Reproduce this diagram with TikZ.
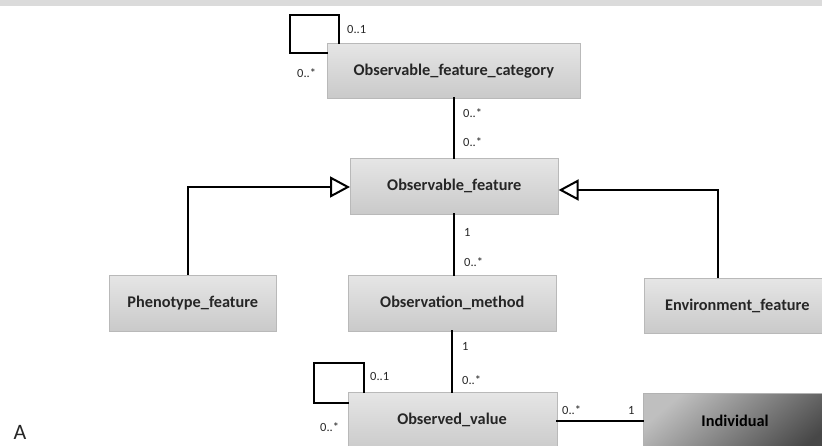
\documentclass[tikz,border=0pt]{standalone}
\usepackage{fontspec}
\setmainfont{Carlito}
\usetikzlibrary{arrows.meta,calc}

\tikzset{
  cls/.style={draw=gray!55, line width=0.6pt, top color=gray!20, bottom color=gray!42,
    inner sep=0pt, anchor=north west,
    font=\fontsize{16.3}{19}\selectfont\bfseries, text=black!85},
  darkcls/.style={cls, top color=gray!50, bottom color=black!72, shading angle=40,
    draw=gray!60, text=black},
  link/.style={line width=2.3pt, line cap=rect},
  inherit/.style={line width=2.3pt, -{Triangle[open, length=20pt, width=21pt, line width=2pt, fill=white]}},
  mult/.style={font=\fontsize{12.5}{14}\selectfont, inner sep=0pt, anchor=west, text=black!85},
}

\begin{document}
\begin{tikzpicture}[x=1pt, y=-1pt]
  % page extent
  \useasboundingbox (0,0) rectangle (822,446);
  \fill[gray!28] (0,0) rectangle (822,6);

  % classes
  \node[cls, minimum width=253pt, minimum height=55pt] (cat) at (327,43) {Observable\_feature\_category};
  \node[cls, minimum width=208pt, minimum height=56pt] (feat) at (350,158) {Observable\_feature};
  \node[cls, minimum width=167pt, minimum height=56pt] (pheno) at (109,275) {Phenotype\_feature};
  \node[cls, minimum width=208pt, minimum height=56pt] (meth) at (348,275) {Observation\_method};
  \node[cls, minimum width=186pt, minimum height=55pt] (env) at (644,278) {Environment\_feature};
  \node[cls, minimum width=209pt, minimum height=60pt] (val) at (348,392) {};
  \node[font=\fontsize{16.3}{19}\selectfont\bfseries, text=black!85] (valtxt) at (452,420) {Observed\_value};
  \node[darkcls, minimum width=190pt, minimum height=60pt] (ind) at (643,393) {};
  \node[font=\fontsize{16.3}{19}\selectfont\bfseries, text=black] (indtxt) at (735,421) {Individual};

  % category self association
  \coordinate (c1) at (339,15);
  \coordinate (c2) at (290,15);
  \coordinate (c3) at (290,53);
  \draw[link] (cat.north west -| c1) -- (c1) -- (c2) -- (c3) -- (c3 -| cat.west);
  \node[mult] at (347,29) {0..1};
  \node[mult] at (297,73) {0..*};

  % category -- feature
  \draw[link] (cat.south -| feat.north) -- (feat.north);
  \node[mult] at (463,113) {0..*};
  \node[mult] at (463,142) {0..*};

  % generalisations
  \coordinate (p1) at (188,187);
  \draw[inherit] (pheno.north -| p1) -- (p1) -- (p1 -| feat.west);
  \coordinate (e1) at (718,190);
  \draw[inherit] (env.north -| e1) -- (e1) -- (e1 -| feat.east);

  % feature -- method
  \draw[link] (feat.south) -- (feat.south |- meth.north);
  \node[mult] at (464,232) {1};
  \node[mult] at (464,262) {0..*};

  % method -- observed value
  \draw[link] (meth.south) -- (meth.south |- val.north);
  \node[mult] at (462,346) {1};
  \node[mult] at (462,380) {0..*};

  % observed value self association
  \coordinate (v1) at (364,363);
  \coordinate (v2) at (314,363);
  \coordinate (v3) at (314,403);
  \draw[link] (val.north west -| v1) -- (v1) -- (v2) -- (v3) -- (v3 -| val.west);
  \node[mult] at (370,376) {0..1};
  \node[mult] at (320,427) {0..*};

  % observed value -- individual
  \coordinate (i1) at (557,421);
  \draw[link] (i1) -- (i1 -| ind.west);
  \node[mult] at (562,410) {0..*};
  \node[mult] at (628,410) {1};

  % panel letter
  \node[font=\fontsize{22}{24}\selectfont\rmfamily, text=black!85, inner sep=0pt] (letter) at (20,432) {A};
\end{tikzpicture}
\end{document}
